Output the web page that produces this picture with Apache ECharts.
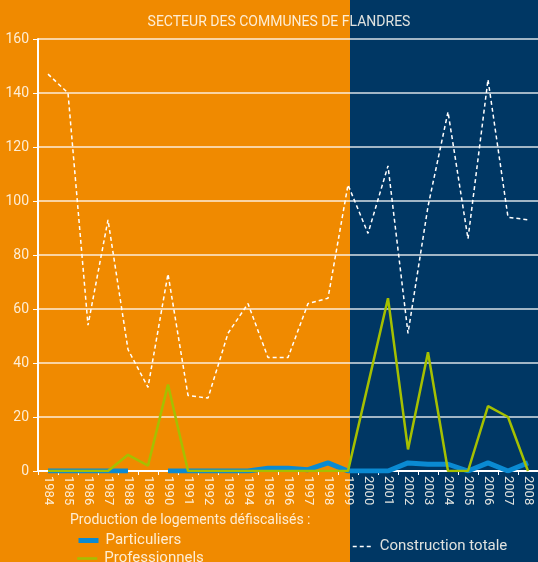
<!DOCTYPE html>
<html>
<head>
<meta charset="utf-8">
<script src="https://cdn.jsdelivr.net/npm/echarts@6/dist/echarts.min.js"></script>
<style>
    html, body { margin: 0; padding: 0; background: #f08a00; }
    #chart { width: 538px; height: 562px; }
</style>
</head>
<body>
<div id="chart"></div>
<script>
const years = ["1984", "1985", "1986", "1987", "1988", "1989", "1990", "1991", "1992", "1993",
    "1994", "1995", "1996", "1997", "1998", "1999", "2000", "2001", "2002", "2003",
    "2004", "2005", "2006", "2007", "2008"];
const particuliers = [0, 0, 0, 0, 0, null, 0, 0, 0, 0,
    0, 1, 1, 0.5, 3, 0, 0, 0, 3, 2.5,
    2.5, 0, 3, 0, 3];
const professionnels = [0, 0, 0, 0, 6, 2, 32, 0, 0, 0,
    0, 0, 0, 0, 0, 0, 32, 64, 8, 44,
    0, 0, 24, 20, 0];
const constructionTotale = [147, 140, 54, 93, 45, 31, 73, 28, 27, 51,
    62, 42, 42, 62, 64, 106, 88, 113, 51, 98,
    133, 86, 145, 94, 93];
const yTicks = [0, 20, 40, 60, 80, 100, 120, 140, 160];

const textColor = "rgba(255,250,240,0.88)";
const fontFamily = "Roboto";

function legendAt(name, left, top, lineWidth) {
    return {
        data: [name],
        left: left,
        top: top,
        itemWidth: 20,
        itemHeight: 10,
        itemGap: 0,
        padding: 0,
        itemStyle: { opacity: 0 },
        lineStyle: { width: lineWidth },
        textStyle: { color: textColor, fontSize: 15, fontFamily: fontFamily, padding: [0, 0, 0, 2] }
    };
}

let myChart = echarts.init(document.getElementById("chart"));
let option = {
    backgroundColor: "#f08a00",
    animation: false,
    textStyle: { fontFamily: fontFamily },
    graphic: [
        {
            type: "rect",
            z: -10,
            shape: { x: 350, y: 0, width: 188, height: 562 },
            style: { fill: "#003764" }
        }
    ],
    title: [
        {
            text: "SECTEUR DES COMMUNES DE FLANDRES",
            left: 274,
            textAlign: "center",
            top: 10,
            textStyle: { color: textColor, fontSize: 14, fontWeight: "normal", fontFamily: fontFamily }
        },
        {
            text: "Production de logements défiscalisés :",
            left: 70,
            top: 513,
            padding: 0,
            textStyle: { color: textColor, fontSize: 14, fontWeight: "normal", fontFamily: fontFamily }
        }
    ],
    legend: [
        legendAt("Particuliers", 76, 533, 5),
        legendAt("Professionnels", 76, 551, 2.5),
        legendAt("Construction totale", 352, 539, 1.5)
    ],
    grid: {
        top: 39,
        left: 38,
        right: 0,
        bottom: 91
    },
    xAxis: {
        type: "category",
        data: years,
        boundaryGap: true,
        axisLine: { lineStyle: { color: "#ffffff", width: 2 } },
        axisTick: { show: true, length: 4, lineStyle: { color: "#ffffff" } },
        axisLabel: {
            rotate: -90,
            interval: 0,
            color: textColor,
            fontSize: 13,
            margin: 5
        }
    },
    yAxis: {
        type: "value",
        min: yTicks[0],
        max: yTicks[yTicks.length - 1],
        interval: 20,
        axisLine: { show: true, lineStyle: { color: "#ffffff", width: 2 } },
        axisTick: { show: true, length: 5, lineStyle: { color: "#ffffff" } },
        axisLabel: { color: textColor, fontSize: 14, margin: 9 },
        splitLine: { show: true, lineStyle: { color: "rgba(255,255,255,0.85)", width: 1.5 } }
    },
    series: [
        {
            name: "Construction totale",
            type: "line",
            data: constructionTotale,
            symbol: "none",
            z: 1,
            lineStyle: { color: "#ffffff", width: 1.5, type: [4, 3] },
            itemStyle: { color: "#ffffff" }
        },
        {
            name: "Particuliers",
            type: "line",
            data: particuliers,
            symbol: "none",
            z: 2,
            lineStyle: { color: "#0a8ad2", width: 5 },
            itemStyle: { color: "#0a8ad2" }
        },
        {
            name: "Professionnels",
            type: "line",
            data: professionnels,
            symbol: "none",
            z: 3,
            lineStyle: { color: "#a5c000", width: 2.5 },
            itemStyle: { color: "#a5c000" }
        }
    ]
};

myChart.setOption(option);
</script>
</body>
</html>
